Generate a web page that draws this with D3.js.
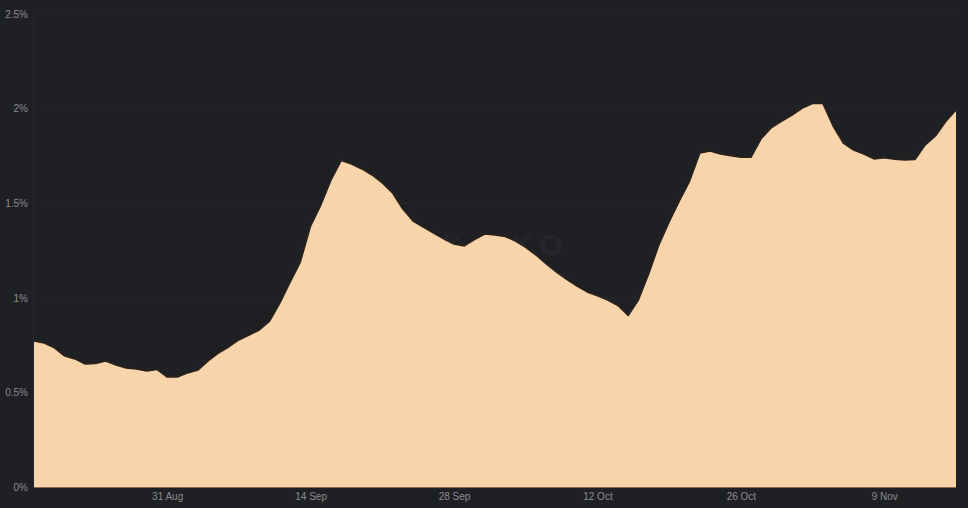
<!DOCTYPE html>
<html>
<head>
<meta charset="utf-8">
<script src="https://cdn.jsdelivr.net/npm/d3@7/dist/d3.min.js"></script>
<style>
  html, body { margin: 0; padding: 0; background: #1f2024; }
  svg { display: block; }
</style>
</head>
<body>
<svg id="chart" width="968" height="508"></svg>
<script>
// Daily values (%), 18 Aug .. 16 Nov
const startDate = "2023-08-18";
const values = [
  0.772, 0.761, 0.735, 0.692, 0.677, 0.650, 0.653, 0.666, 0.645, 0.629,
  0.624, 0.613, 0.621, 0.581, 0.581, 0.603, 0.618, 0.666, 0.708, 0.740,
  0.777, 0.803, 0.830, 0.877, 0.972, 1.083, 1.189, 1.379, 1.490, 1.623,
  1.726, 1.707, 1.681, 1.649, 1.607, 1.554, 1.469, 1.406, 1.374, 1.342,
  1.311, 1.284, 1.274, 1.308, 1.337, 1.332, 1.324, 1.300, 1.266, 1.226,
  1.179, 1.136, 1.097, 1.062, 1.031, 1.010, 0.988, 0.959, 0.906, 0.988,
  1.126, 1.279, 1.401, 1.512, 1.617, 1.765, 1.776, 1.760, 1.751, 1.743,
  1.743, 1.842, 1.900, 1.934, 1.966, 2.003, 2.027, 2.027, 1.908, 1.818,
  1.781, 1.760, 1.734, 1.740, 1.732, 1.728, 1.731, 1.808, 1.855, 1.932,
  1.993
];
const yTicks = [0, 0.5, 1, 1.5, 2, 2.5];
const yTickLabels = ["0%", "0.5%", "1%", "1.5%", "2%", "2.5%"];
const xTickDates = ["2023-08-31", "2023-09-14", "2023-09-28", "2023-10-12", "2023-10-26", "2023-11-09"];
const xTickLabels = ["31 Aug", "14 Sep", "28 Sep", "12 Oct", "26 Oct", "9 Nov"];

const parse = d3.utcParse("%Y-%m-%d");
const t0 = parse(startDate);
const data = values.map((v, i) => ({ date: d3.utcDay.offset(t0, i), v }));

const svg = d3.select("#chart");
const W = 968, H = 508;
const m = { left: 34, right: 12, top: 14, bottom: 21 };

const x = d3.scaleUtc()
  .domain([data[0].date, data[data.length - 1].date])
  .range([m.left, W - m.right]);
const y = d3.scaleLinear().domain([0, 2.5]).range([H - m.bottom, m.top]);

svg.append("rect").attr("width", W).attr("height", H).attr("fill", "#1f2024");

// faint grid
svg.append("g").selectAll("line").data(yTicks.slice(1)).join("line")
  .attr("x1", m.left).attr("x2", W - m.right)
  .attr("y1", d => y(d)).attr("y2", d => y(d))
  .attr("stroke", "#25262b").attr("stroke-width", 1);
svg.append("line")
  .attr("x1", m.left - 0.5).attr("x2", m.left - 0.5)
  .attr("y1", m.top).attr("y2", H - m.bottom)
  .attr("stroke", "#26272c");

// watermark
svg.append("text")
  .attr("x", 505).attr("y", 255)
  .attr("text-anchor", "middle")
  .attr("font-family", "Liberation Sans, Arial, sans-serif")
  .attr("font-size", 30).attr("font-weight", "bold")
  .attr("letter-spacing", 6)
  .attr("fill", "#25262b")
  .text("KAIKO");

const area = d3.area()
  .x(d => x(d.date)).y0(y(0)).y1(d => y(d.v));
const line = d3.line()
  .x(d => x(d.date)).y(d => y(d.v));

svg.append("path").datum(data)
  .attr("d", area)
  .attr("fill", "#f8d4aa");
svg.append("path").datum(data)
  .attr("d", line)
  .attr("fill", "none")
  .attr("stroke", "#2c221c")
  .attr("stroke-width", 1.5)
  .attr("stroke-linejoin", "round");
svg.append("line")
  .attr("x1", m.left).attr("x2", W - m.right)
  .attr("y1", y(0) + 0.5).attr("y2", y(0) + 0.5)
  .attr("stroke", "#8a6a50").attr("stroke-width", 1);

// y labels
const yAxis = d3.axisLeft(y).tickValues(yTicks)
  .tickFormat((d, i) => yTickLabels[i]).tickSize(0).tickPadding(6);
const gy = svg.append("g").attr("transform", `translate(${m.left},0)`).call(yAxis);
gy.select(".domain").remove();
gy.selectAll("text")
  .attr("fill", "#8b8c90")
  .attr("font-family", "Liberation Sans, Arial, sans-serif")
  .attr("font-size", 10);

// x labels
const xAxis = d3.axisBottom(x).tickValues(xTickDates.map(parse))
  .tickFormat((d, i) => xTickLabels[i]).tickSize(0).tickPadding(6);
const gx = svg.append("g").attr("transform", `translate(0,${y(0)})`).call(xAxis);
gx.select(".domain").remove();
gx.selectAll("text")
  .attr("fill", "#8b8c90")
  .attr("font-family", "Liberation Sans, Arial, sans-serif")
  .attr("font-size", 10);
</script>
</body>
</html>
